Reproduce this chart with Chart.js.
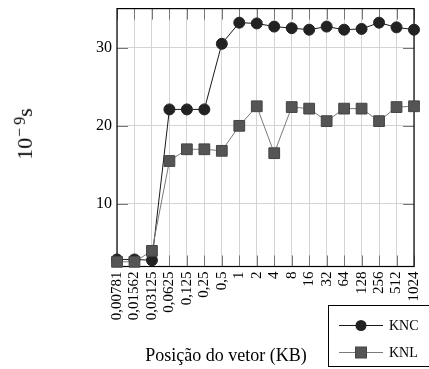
<!DOCTYPE html>
<html><head><meta charset="utf-8">
<script src="https://cdn.jsdelivr.net/npm/chart.js@4.4.0/dist/chart.umd.min.js"></script>
<style>
html,body{margin:0;padding:0;background:#fff;overflow:hidden;}
#wrap{position:relative;width:429px;height:369px;overflow:hidden;}
canvas{position:absolute;left:0;top:0;}
#ytitle{position:absolute;left:24px;top:134px;transform:translate(-50%,-50%) rotate(-90deg);font-family:"Liberation Serif",serif;font-size:22px;white-space:nowrap;line-height:1;color:#000;}
#ytitle sup{font-size:16px;vertical-align:0.45em;}
#ytitle .m{margin:0 3px 0 1px;}
#xtitle{position:absolute;left:226px;top:355px;transform:translate(-50%,-50%);font-family:"Liberation Serif",serif;font-size:18px;white-space:nowrap;line-height:1;color:#000;}
#legend{position:absolute;left:328px;top:305px;width:110px;height:62px;border:1px solid #000;background:#fff;box-sizing:border-box;}
#legend svg{position:absolute;left:0;top:0;}
#legend .lab{position:absolute;left:60px;font-family:"Liberation Serif",serif;font-size:14px;line-height:1;transform:translateY(-50%);color:#000;}
</style></head>
<body>
<div id="wrap">
<canvas id="c" width="429" height="369"></canvas>
<div id="ytitle">10<sup><span class="m">−</span>9</sup>s</div>
<div id="xtitle">Posição do vetor (KB)</div>
<div id="legend">
<svg width="110" height="62">
<line x1="10" y1="19.5" x2="54" y2="19.5" stroke="#1a1a1a" stroke-width="1"/>
<circle cx="32" cy="19.5" r="5.5" fill="#222"/>
<line x1="10" y1="46.5" x2="54" y2="46.5" stroke="#7a7a7a" stroke-width="1"/>
<rect x="26.5" y="41" width="11" height="11" fill="#555" stroke="#444" stroke-width="1"/>
</svg>
<div class="lab" style="top:20px">KNC</div>
<div class="lab" style="top:47px">KNL</div>
</div>
</div>
<script>
const categories = ['0,00781','0,01562','0,03125','0,0625','0,125','0,25','0,5','1','2','4','8','16','32','64','128','256','512','1024'];
const knc = [2.9, 2.9, 2.8, 22.1, 22.1, 22.1, 30.5, 33.2, 33.1, 32.7, 32.5, 32.3, 32.7, 32.3, 32.4, 33.2, 32.6, 32.3];
const knl = [2.6, 2.6, 4.0, 15.5, 17.0, 17.0, 16.8, 20.0, 22.5, 16.5, 22.4, 22.2, 20.6, 22.2, 22.2, 20.6, 22.4, 22.5];
const yTicks = [10, 20, 30];
const seriesNames = ['KNC', 'KNL'];

const framePlugin = {
  id: 'frame',
  beforeDatasetsDraw(chart) {
    const {ctx, chartArea: a, scales: {x, y}} = chart;
    ctx.save();
    ctx.strokeStyle = '#777';
    ctx.lineWidth = 1;
    ctx.beginPath();
    x.ticks.forEach((t, i) => {
      const px = Math.round(x.getPixelForTick(i)) + 0.5;
      ctx.moveTo(px, a.bottom); ctx.lineTo(px, a.bottom - 11);
      ctx.moveTo(px, a.top); ctx.lineTo(px, a.top + 11);
    });
    y.ticks.forEach((t, i) => {
      const py = Math.round(y.getPixelForTick(i)) + 0.5;
      ctx.moveTo(a.left, py); ctx.lineTo(a.left + 11, py);
      ctx.moveTo(a.right, py); ctx.lineTo(a.right - 11, py);
    });
    ctx.stroke();
    ctx.strokeStyle = '#000';
    ctx.lineWidth = 1.2;
    ctx.strokeRect(a.left, a.top, a.right - a.left, a.bottom - a.top);
    ctx.restore();
  }
};

new Chart(document.getElementById('c'), {
  type: 'line',
  data: {
    labels: categories,
    datasets: [
      {label: seriesNames[0], data: knc, borderColor: '#1a1a1a', borderWidth: 1, pointStyle: 'circle', pointRadius: 5.5,
       pointBackgroundColor: '#222', pointBorderColor: '#222', pointBorderWidth: 1, clip: false, order: 1, tension: 0},
      {label: seriesNames[1], data: knl, borderColor: '#7a7a7a', borderWidth: 1, pointStyle: 'rect', pointRadius: 7.6,
       pointBackgroundColor: '#555', pointBorderColor: '#444', pointBorderWidth: 1, clip: false, order: 0, tension: 0}
    ]
  },
  options: {
    responsive: false,
    animation: false,
    devicePixelRatio: 1,
    layout: {padding: {left: 0, top: 8, right: 15, bottom: 0}},
    plugins: {legend: {display: false}, tooltip: {enabled: false}},
    scales: {
      x: {
        type: 'category',
        offset: false,
        grid: {color: '#d4d4d4', drawTicks: false, offset: false},
        border: {display: false},
        ticks: {minRotation: 90, maxRotation: 90, autoSkip: false, padding: 5, color: '#000',
                font: {family: '"Liberation Serif", serif', size: 15}},
        afterFit(s) { s.height = 102.5; s.paddingLeft = 0; s.paddingRight = 0; }
      },
      y: {
        min: 2.0, max: 35.0,
        grid: {color: '#d4d4d4', drawTicks: false},
        border: {display: false},
        ticks: {padding: 5, color: '#000', font: {family: '"Liberation Serif", serif', size: 16}},
        afterBuildTicks(s) { s.ticks = yTicks.map(v => ({value: v})); },
        afterFit(s) { s.width = 117; s.paddingTop = 0; s.paddingBottom = 0; }
      }
    }
  },
  plugins: [framePlugin]
});
</script>
</body></html>
